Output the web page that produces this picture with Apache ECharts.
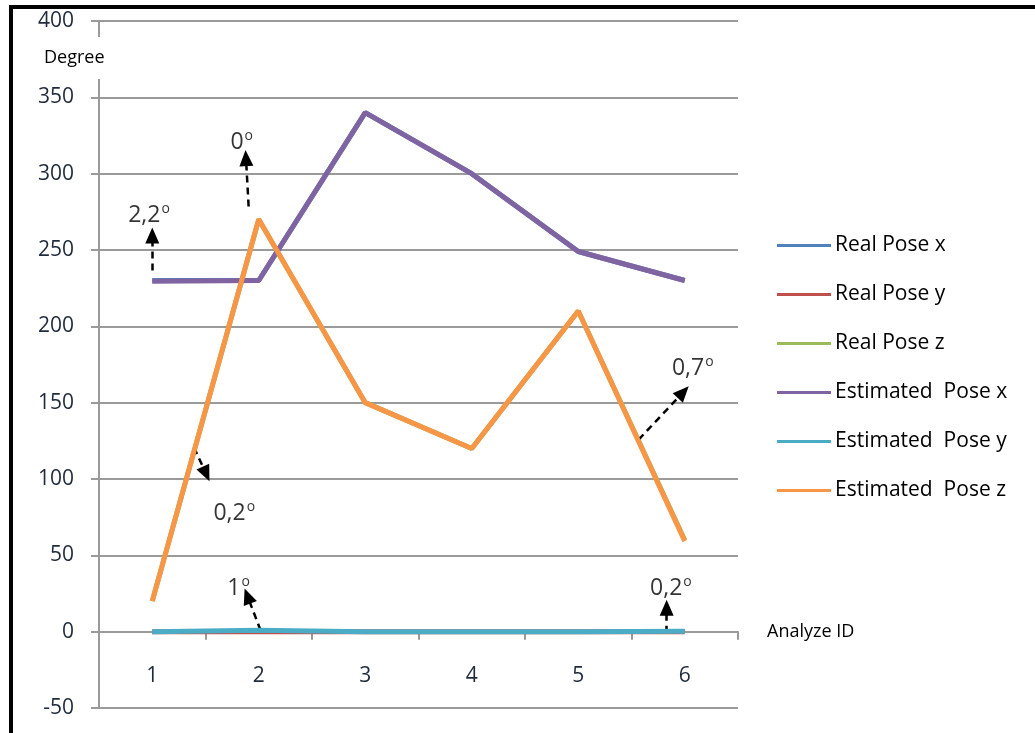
<!DOCTYPE html>
<html><head><meta charset="utf-8">
<script src="https://cdn.jsdelivr.net/npm/echarts@6/dist/echarts.min.js"></script>
<style>
html,body{margin:0;padding:0;background:#fff;}
#bl{position:absolute;left:9px;top:5px;width:4px;height:728px;background:#000;}
#bt{position:absolute;left:9px;top:5px;width:1026px;height:4px;background:#000;}
#c{position:absolute;left:0;top:0;width:1035px;height:733px;}
</style></head>
<body>
<div id="c"></div>
<div id="bl"></div><div id="bt"></div>
<script>
const categories = ['1','2','3','4','5','6'];
const realPoseX = [230, 230, 340, 300, 249, 230];
const realPoseY = [0, 0, 0, 0, 0, 0];
const realPoseZ = [20, 270, 150, 120, 210, 60];
const estPoseX = [229.5, 230, 340, 300, 249, 230];
const estPoseY = [0, 1, 0, 0, 0, 0.2];
const estPoseZ = [20, 270.2, 150, 120, 210, 59.3];
const seriesNames = ['Real Pose x','Real Pose y','Real Pose z','Estimated  Pose x','Estimated  Pose y','Estimated  Pose z'];
const seriesColors = ['#4F81BD','#C0504D','#9BBB59','#8064A2','#4BACC6','#F79646'];
const yTicks = {min:-50, max:400, interval:50};
// annotation arrows in (category position, degree); end = centre of arrow head
const arrowStarts = [[1, 236.6],[1.905, 278.5],[1.393, 120.6],[2.017, 0.9],[5.567, 125.8],[5.83, -0.7]];
const arrowEnds   = [[1, 259.5],[1.88, 310.2],[1.506, 103.3],[1.894, 23.3],[5.986, 156.9],[5.83, 15.7]];
const noteTexts = ['2,2','0','0,2','1','0,7','0,2'];
const notePos = [[0.97, 272.5],[1.84, 320.5],[1.77, 77.5],[1.81, 28.5],[6.075, 172.5],[5.87, 28.5]];

const font = '"Open Sans", sans-serif';
const allData = [realPoseX, realPoseY, realPoseZ, estPoseX, estPoseY, estPoseZ];
const series = allData.map((d,i)=>({
  name: seriesNames[i], type:'line', data:d, symbol:'none', showSymbol:false,
  lineStyle:{width:5, color:seriesColors[i]}, itemStyle:{color:seriesColors[i]},
  z: 2+i, emphasis:{disabled:true}
}));
series.push({
  type:'scatter', xAxisIndex:1, yAxisIndex:0, symbolSize:0, z:20, silent:true,
  data: notePos.map((p,i)=>({value:p, name:noteTexts[i]})),
  label:{show:true, position:'inside', formatter:p=>'{a|'+p.name+'}{s|o}',
    rich:{a:{fontSize:23, color:'#000', fontFamily:font},
          s:{fontSize:14, color:'#000', fontFamily:font, verticalAlign:'top', padding:[0,0,13,1]}}},
  markLine:{silent:true, symbol:['none','triangle'], symbolSize:[14,16], animation:false,
    label:{show:false}, emphasis:{disabled:true},
    lineStyle:{color:'#000', width:2.5, type:[7,5]},
    data: arrowStarts.map((s,i)=>[{coord:s},{coord:arrowEnds[i]}])}
});

const chart = echarts.init(document.getElementById('c'));
chart.setOption({
  animation:false,
  backgroundColor:'#fff',
  grid:{left:99, right:297, top:21, bottom:25, outerBoundsMode:'none', containLabel:false},
  legend:{orient:'vertical', left:777, top:235, padding:0, itemWidth:54, itemHeight:3, icon:'rect', itemGap:28,
    data: seriesNames,
    textStyle:{fontSize:21, color:'#000', fontFamily:font, padding:[0,0,0,-1]}},
  xAxis:[{type:'category', data:categories, boundaryGap:true,
    axisLine:{onZero:true, lineStyle:{color:'#9a9a9a', width:2}},
    axisTick:{show:true, length:8, lineStyle:{color:'#9a9a9a', width:2}},
    axisLabel:{show:false},
    name:'Analyze ID', nameLocation:'end', nameGap:29,
    nameTextStyle:{fontSize:18, color:'#000', fontFamily:font, verticalAlign:'middle', padding:[4,0,0,0]},
    splitLine:{show:false}},
   {type:'value', min:0.5, max:6.5, show:false},
   {type:'category', data:categories, boundaryGap:true, position:'bottom',
    axisLine:{show:false, onZero:false}, axisTick:{show:false}, splitLine:{show:false},
    axisLabel:{show:true, margin:-42, fontSize:21, color:'#1f2a3a', fontFamily:font}}],
  yAxis:{type:'value', min:yTicks.min, max:yTicks.max, interval:yTicks.interval,
    axisLine:{show:true, lineStyle:{color:'#9a9a9a', width:2}},
    axisTick:{show:true, length:8, lineStyle:{color:'#9a9a9a', width:2}},
    axisLabel:{margin:25, fontSize:21, color:'#1f2a3a', fontFamily:font},
    splitLine:{show:true, lineStyle:{color:'#9a9a9a', width:2}}},
  graphic:[{type:'text', left:44, top:37, z:100,
    style:{text:'Degree', fontSize:18, fill:'#000', fontFamily:font, backgroundColor:'#fff', padding:[12,2,12,0]}}],
  series: series
});
</script>
</body></html>
